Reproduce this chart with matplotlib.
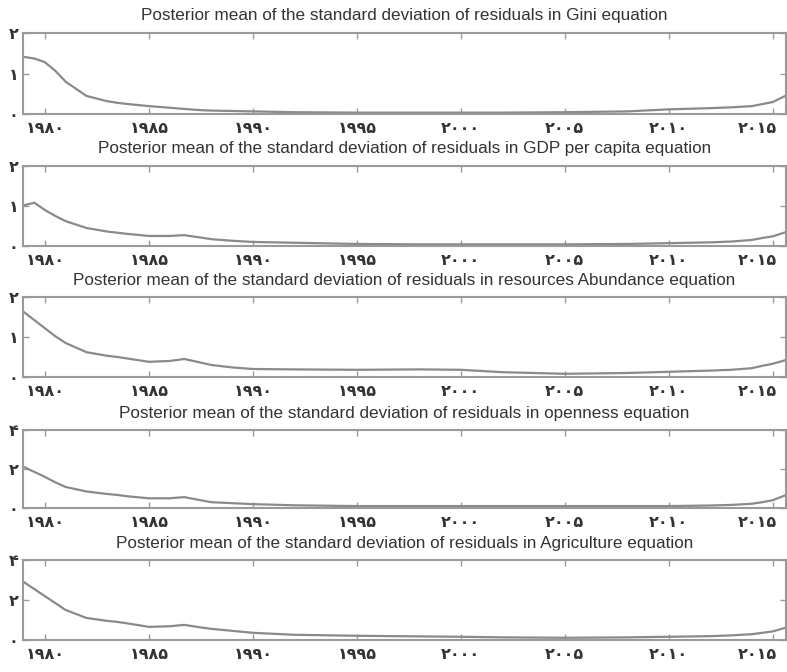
import numpy as np
import matplotlib
matplotlib.use('Agg')
import matplotlib.pyplot as plt
from matplotlib.transforms import ScaledTranslation

plt.rcParams['font.family'] = ['Liberation Sans', 'DejaVu Sans']

# common time axis (years)
years = [1979.0, 1979.5, 1980.0, 1980.5, 1981.0, 1982.0, 1983.0, 1983.5, 1984.0, 1985.0,
         1986.0, 1986.7, 1987.5, 1988.0, 1989.0, 1990.0, 1992.0, 1995.0, 1998.0, 2000.0,
         2002.0, 2005.0, 2008.0, 2010.0, 2012.0, 2013.0, 2014.0, 2014.5, 2015.0, 2015.6]

gini = [1.41, 1.37, 1.28, 1.07, 0.80, 0.45, 0.32, 0.28, 0.25, 0.20,
        0.16, 0.13, 0.10, 0.09, 0.08, 0.07, 0.05, 0.04, 0.04, 0.04,
        0.04, 0.05, 0.07, 0.12, 0.15, 0.17, 0.20, 0.25, 0.30, 0.45]

gdp = [1.02, 1.08, 0.90, 0.75, 0.62, 0.45, 0.36, 0.33, 0.30, 0.25,
       0.25, 0.27, 0.21, 0.17, 0.13, 0.10, 0.08, 0.05, 0.04, 0.04,
       0.04, 0.04, 0.05, 0.07, 0.09, 0.11, 0.15, 0.20, 0.24, 0.34]

resources = [1.62, 1.42, 1.22, 1.02, 0.85, 0.62, 0.53, 0.50, 0.46, 0.38,
             0.40, 0.45, 0.36, 0.30, 0.24, 0.20, 0.19, 0.18, 0.19, 0.18,
             0.12, 0.08, 0.10, 0.13, 0.16, 0.18, 0.22, 0.28, 0.33, 0.42]

openness = [2.10, 1.85, 1.60, 1.32, 1.08, 0.85, 0.72, 0.67, 0.60, 0.50,
            0.50, 0.56, 0.40, 0.30, 0.25, 0.20, 0.14, 0.10, 0.10, 0.10,
            0.10, 0.10, 0.10, 0.10, 0.13, 0.16, 0.22, 0.30, 0.40, 0.65]

agriculture = [2.90, 2.55, 2.20, 1.85, 1.50, 1.10, 0.95, 0.90, 0.82, 0.65,
               0.68, 0.75, 0.62, 0.55, 0.45, 0.35, 0.25, 0.20, 0.17, 0.15,
               0.12, 0.10, 0.12, 0.15, 0.18, 0.22, 0.28, 0.35, 0.42, 0.60]

series = [gini, gdp, resources, openness, agriculture]
titles = ['Posterior mean of the standard deviation of residuals in Gini equation',
          'Posterior mean of the standard deviation of residuals in GDP per capita equation',
          'Posterior mean of the standard deviation of residuals in resources Abundance equation',
          'Posterior mean of the standard deviation of residuals in openness equation',
          'Posterior mean of the standard deviation of residuals in Agriculture equation']
ymax = [2, 2, 2, 4, 4]
ytick_vals = [[0, 1, 2], [0, 1, 2], [0, 1, 2], [0, 2, 4], [0, 2, 4]]
ytick_labels = [['۰', '۱', '۲'], ['۰', '۱', '۲'], ['۰', '۱', '۲'], ['۰', '۲', '۴'], ['۰', '۲', '۴']]
xtick_vals = [1980, 1985, 1990, 1995, 2000, 2005, 2010, 2015]
xtick_labels = ['۱۹۸۰', '۱۹۸۵', '۱۹۹۰', '۱۹۹۵', '۲۰۰۰', '۲۰۰۵', '۲۰۱۰', '۲۰۱۵']

# axes boxes in figure fraction [left, bottom, width, height]
boxes = [[0.029, 0.830, 0.970, 0.121],
         [0.029, 0.634, 0.970, 0.119],
         [0.029, 0.439, 0.970, 0.119],
         [0.029, 0.244, 0.970, 0.116],
         [0.029, 0.048, 0.970, 0.118]]

linecol = '#8a8a8a'
axcol = '#9a9a9a'

fig = plt.figure(figsize=(7.87, 6.72), dpi=100)
for i in range(5):
    ax = fig.add_axes(boxes[i])
    ax.plot(years, series[i], color=linecol, lw=1.6)
    ax.set_xlim(1978.94, 2015.65)
    ax.set_ylim(0, ymax[i])
    ax.set_title(titles[i], fontsize=12.3, color='#333333', pad=9)
    ax.set_xticks(xtick_vals)
    ax.set_xticklabels(xtick_labels, fontsize=11.5, color='#333333', fontweight='bold')
    ax.set_yticks(ytick_vals[i])
    ax.set_yticklabels(ytick_labels[i], fontsize=11.5, color='#333333', fontweight='bold')
    ax.tick_params(direction='in', top=True, right=True, length=4, width=1.0,
                   color=axcol)
    ax.tick_params(axis='x', pad=5)
    ax.tick_params(axis='y', pad=3)
    # keep the last year label inside the figure
    last = ax.get_xticklabels()[-1]
    last.set_horizontalalignment('right')
    last.set_transform(last.get_transform() + ScaledTranslation(3 / 72, 0, fig.dpi_scale_trans))
    for s in ax.spines.values():
        s.set_color(axcol)
        s.set_linewidth(1.5)

fig.savefig('out.png', dpi=100)
